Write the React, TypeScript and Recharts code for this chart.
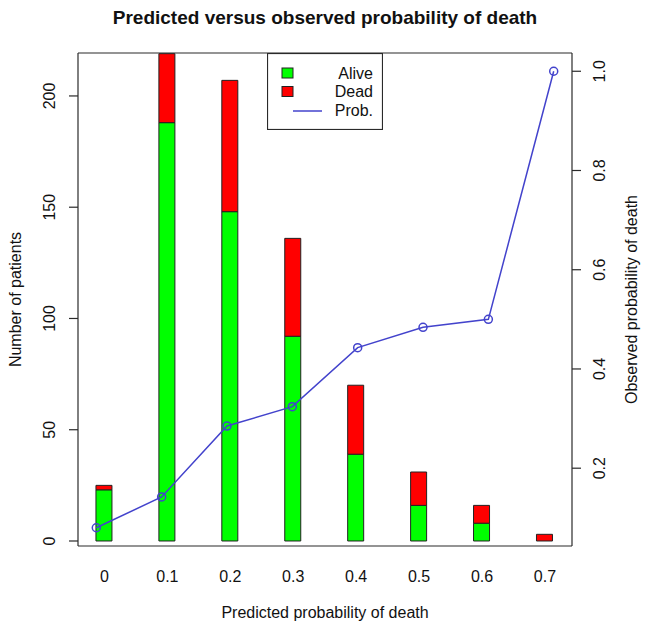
import React from 'react';
import { ComposedChart, Bar, Line, XAxis, YAxis, Legend } from 'recharts';

const categories = ['0', '0.1', '0.2', '0.3', '0.4', '0.5', '0.6', '0.7'];
const alive = [23, 188, 148, 92, 39, 16, 8, 0];
const dead = [2, 31, 59, 44, 31, 15, 8, 3];
const observedProb = [0.08, 0.142, 0.285, 0.324, 0.443, 0.484, 0.5, 1.0];
const countTicks = [0, 50, 100, 150, 200];
const probTicks = [0.2, 0.4, 0.6, 0.8, 1.0];
const catTicks = categories.map((_, i) => i);

const data = categories.map((c, i) => ({
  idx: i,
  label: c,
  Alive: alive[i],
  Dead: dead[i],
  'Prob.': observedProb[i],
}));

const FONT = '"Liberation Sans", Arial, Helvetica, sans-serif';
const AXIS = '#2a2a2a';
const LINE_COLOR = '#4343cc';

const LeftTick = (props: any) => {
  const { x, y, payload } = props;
  return (
    <text x={x} y={y} transform={`rotate(-90 ${x} ${y})`} textAnchor="middle" dominantBaseline="central"
      fontSize={16} fill="#111" fontFamily={FONT}>{payload.value}</text>
  );
};

const RightTick = (props: any) => {
  const { x, y, payload } = props;
  return (
    <text x={x} y={y} transform={`rotate(-90 ${x} ${y})`} textAnchor="middle" dominantBaseline="central"
      fontSize={16} fill="#111" fontFamily={FONT}>{Number(payload.value).toFixed(1)}</text>
  );
};

const LegendBox = (props: any) => {
  const payload = props.payload || [];
  return (
    <svg width={116} height={77} style={{ display: 'block' }}>
      <rect x={0.5} y={0.5} width={115} height={76} fill="#fff" stroke={AXIS} strokeWidth={1.2} />
      {payload.map((e: any, i: number) => {
        const cy = 20 + i * 18.5;
        return (
          <g key={i}>
            {e.type === 'line' ? (
              <line x1={26} x2={55} y1={cy + 1} y2={cy + 1} stroke={e.color} strokeWidth={1.5} />
            ) : (
              <rect x={15} y={cy - 5} width={11} height={10} fill={e.color} stroke="#222" strokeWidth={1} />
            )}
            <text x={106} y={cy} textAnchor="end" dominantBaseline="central" fontSize={16} fill="#111" fontFamily={FONT}>
              {e.value}
            </text>
          </g>
        );
      })}
    </svg>
  );
};

export default function App() {
  return (
    <div style={{ position: 'absolute', left: 0, top: 0, width: 652, height: 627, background: '#fff' }}>
      <ComposedChart width={652} height={627} data={data} margin={{ top: 0, right: 0, bottom: 0, left: 0 }}>
        <XAxis
          xAxisId="bar"
          dataKey="idx"
          type="number"
          domain={[-0.42, 7.43]}
          allowDataOverflow
          ticks={catTicks}
          interval={0}
          tickFormatter={(v: number) => categories[v]}
          height={81}
          tickLine={false}
          tickSize={0}
          tickMargin={25}
          axisLine={{ stroke: AXIS, strokeWidth: 1.2 }}
          tick={{ fontSize: 16, fill: '#111', fontFamily: FONT }}
          label={{
            content: (p: any) => {
              const vb = p.viewBox || { x: 78, y: 546, width: 494 };
              return (
                <text x={vb.x + vb.width / 2} y={612} textAnchor="middle" dominantBaseline="central"
                  fontSize={16} fill="#111" fontFamily={FONT}>Predicted probability of death</text>
              );
            },
          }}
        />
        <XAxis
          xAxisId="top"
          orientation="top"
          dataKey="idx"
          type="number"
          domain={[-0.42, 7.43]}
          allowDataOverflow
          height={53}
          tick={false}
          tickLine={false}
          axisLine={{ stroke: AXIS, strokeWidth: 1.2 }}
          label={{
            content: (p: any) => {
              const vb = p.viewBox || { x: 78, y: 0, width: 494 };
              return (
                <text x={vb.x + vb.width / 2} y={17} textAnchor="middle" dominantBaseline="central"
                  fontSize={19} fontWeight="bold" fill="#111" fontFamily={FONT}>Predicted versus observed probability of death</text>
              );
            },
          }}
        />
        <XAxis xAxisId="line" dataKey="idx" type="number" domain={[-0.28, 7.28]} allowDataOverflow hide />
        <YAxis
          yAxisId="left"
          orientation="left"
          type="number"
          domain={[-2.25, 219.3]}
          allowDataOverflow
          ticks={countTicks}
          width={78}
          tickSize={9}
          tickMargin={19}
          tick={<LeftTick />}
          tickLine={{ stroke: AXIS, strokeWidth: 1.2 }}
          axisLine={{ stroke: AXIS, strokeWidth: 1.2 }}
          label={{
            content: (p: any) => {
              const vb = p.viewBox || { x: 0, y: 53, height: 493 };
              const cy = vb.y + vb.height / 2;
              return (
                <text x={15} y={cy} transform={`rotate(-90 15 ${cy})`} textAnchor="middle" dominantBaseline="central"
                  fontSize={16} fill="#111" fontFamily={FONT}>Number of patients</text>
              );
            },
          }}
        />
        <YAxis
          yAxisId="right"
          orientation="right"
          type="number"
          domain={[0.0432, 1.0368]}
          allowDataOverflow
          ticks={probTicks}
          width={80}
          tickSize={9}
          tickMargin={19}
          tick={<RightTick />}
          tickLine={{ stroke: AXIS, strokeWidth: 1.2 }}
          axisLine={{ stroke: AXIS, strokeWidth: 1.2 }}
          label={{
            content: (p: any) => {
              const vb = p.viewBox || { x: 572, y: 53, height: 493 };
              const cy = vb.y + vb.height / 2;
              return (
                <text x={631} y={cy} transform={`rotate(-90 631 ${cy})`} textAnchor="middle" dominantBaseline="central"
                  fontSize={16} fill="#111" fontFamily={FONT}>Observed probability of death</text>
              );
            },
          }}
        />
        <Legend
          layout="vertical"
          align="center"
          verticalAlign="middle"
          content={<LegendBox />}
          wrapperStyle={{ position: 'absolute', left: 267, top: 53, width: 116, height: 77 }}
        />
        <Bar xAxisId="bar" yAxisId="left" dataKey="Alive" stackId="s" fill="#00ff00" stroke="#222" strokeWidth={1}
          barSize={16} isAnimationActive={false} />
        <Bar xAxisId="bar" yAxisId="left" dataKey="Dead" stackId="s" fill="#ff0000" stroke="#222" strokeWidth={1}
          barSize={16} isAnimationActive={false} />
        <Line xAxisId="line" yAxisId="right" dataKey="Prob." type="linear" stroke={LINE_COLOR} strokeWidth={1.5}
          dot={{ r: 4, fill: 'none', stroke: LINE_COLOR, strokeWidth: 1.5 }} activeDot={false} isAnimationActive={false} />
      </ComposedChart>
    </div>
  );
}
